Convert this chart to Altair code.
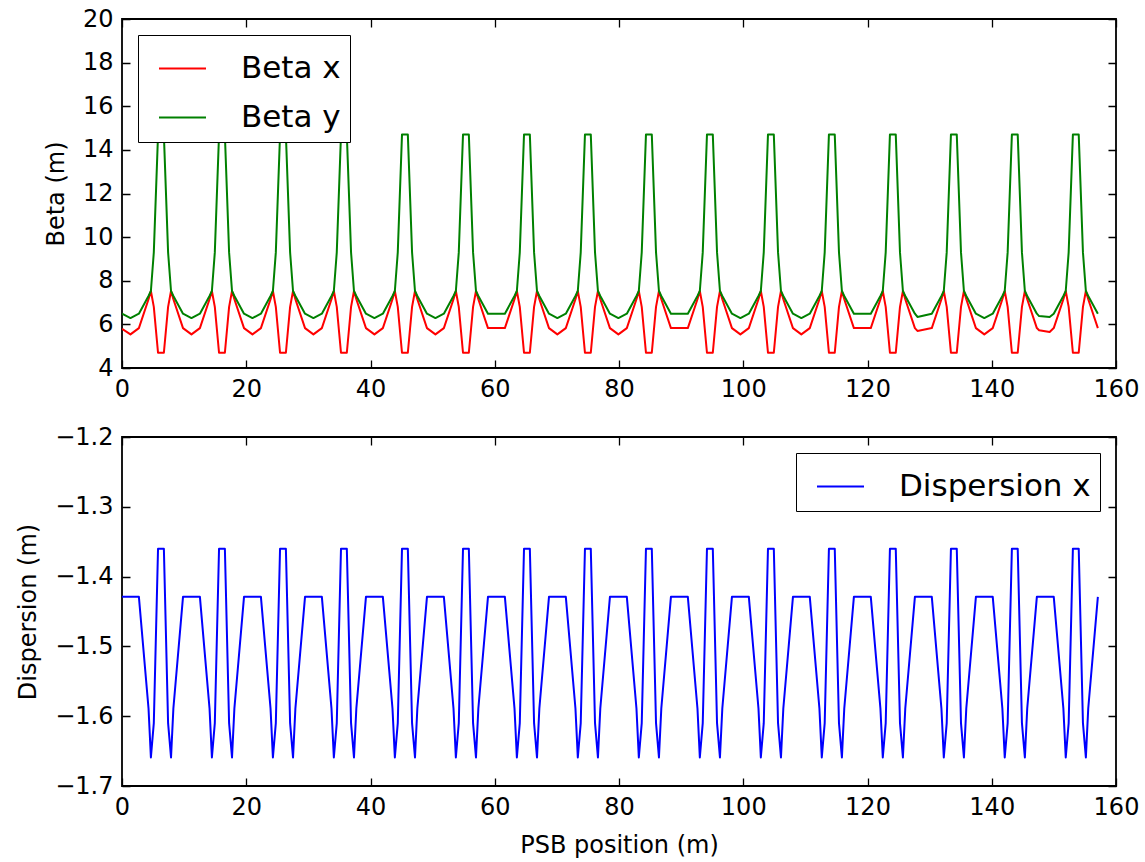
import altair as alt
import pandas as pd

# ---- data ----
# centres of the defocusing quadrupoles (beta-y peaks), m
qd_centres = [6.27, 16.09, 25.91, 35.72, 45.54, 55.36, 65.18, 74.99,
              84.81, 94.63, 104.45, 114.26, 124.08, 133.90, 143.71, 153.53]
# optics around each triplet (offset from the QD centre, m)
cell_offsets = [-3.55, -2.00, -1.62, -1.15, -0.47, 0.47, 1.15, 1.62, 2.00, 3.55]
cell_betx = [5.83, 7.15, 7.53, 6.80, 4.70, 4.70, 6.80, 7.53, 7.15, 5.83]
cell_bety = [6.49, 7.30, 7.53, 9.30, 14.70, 14.70, 9.30, 7.53, 7.30, 6.49]
cell_disp = [-1.429, -1.589, -1.659, -1.610, -1.360, -1.360, -1.610, -1.659, -1.589, -1.429]
# first point of the ring
start_s, start_betx, start_bety, start_disp = 0.0, 5.80, 6.49, -1.429
# straight sections: distance of their centre before each QD, and interior samples
straight_gap = 4.91
straight_disp = -1.429
valley_offsets = [[0.0], [0.0], [0.0], [0.0], [0.0], [0.0], [], [0.0],
                  [0.0], [], [0.0], [0.0], [], [-0.95], [0.0], [-1.0, 0.7]]
valley_betx = [[5.54], [5.54], [5.54], [5.54], [5.54], [5.54], [], [5.54],
               [5.54], [], [5.54], [5.54], [], [5.70], [5.54], [5.73, 5.65]]
valley_bety = [[6.29], [6.29], [6.29], [6.29], [6.29], [6.29], [], [6.29],
               [6.29], [], [6.29], [6.29], [], [6.34], [6.29], [6.38, 6.34]]

x_ticks = [0, 20, 40, 60, 80, 100, 120, 140, 160]
beta_ticks = [4, 6, 8, 10, 12, 14, 16, 18, 20]
disp_ticks = [-1.7, -1.6, -1.5, -1.4, -1.3, -1.2]

# ---- assemble the table ----
s, bx, by, dx = [start_s], [start_betx], [start_bety], [start_disp]
for j, c in enumerate(qd_centres):
    vc = c - straight_gap
    for off, vx, vy in zip(valley_offsets[j], valley_betx[j], valley_bety[j]):
        s.append(vc + off); bx.append(vx); by.append(vy); dx.append(straight_disp)
    for u, vx, vy, vd in zip(cell_offsets, cell_betx, cell_bety, cell_disp):
        s.append(c + u); bx.append(vx); by.append(vy); dx.append(vd)

n = len(s)
beta_df = pd.DataFrame({"s": s + s, "value": bx + by,
                        "series": ["Beta x"] * n + ["Beta y"] * n,
                        "k": list(range(n)) + list(range(n))})
disp_df = pd.DataFrame({"s": s, "value": dx, "series": ["Dispersion x"] * n, "k": list(range(n))})

W, H = 994, 349
FONT = "DejaVu Sans"

def axis_kw(length, **extra):
    kw = dict(labelFont=FONT, labelFontSize=24, labelColor="black", labelPadding=9,
              labelOverlap=False, labelFlush=False, ticks=False, domain=False,
              grid=True, gridColor="black", gridWidth=1.3, gridOpacity=1,
              gridDash=[8, length - 16, 8, 5000],
              titleFont=FONT, titleFontSize=24, titleFontWeight="normal",
              titleColor="black", titlePadding=14)
    kw.update(extra)
    return kw

legend_kw = dict(title=None, symbolType="stroke", symbolSize=2209, symbolStrokeWidth=2,
                 labelFont=FONT, labelFontSize=31, labelColor="black", labelOffset=34,
                 padding=9, rowPadding=9, fillColor="white", strokeColor="black",
                 symbolOffset=11, labelLimit=500, offset=16)

top = alt.Chart(beta_df).mark_line(strokeWidth=2, strokeJoin="round", clip=True).encode(
    x=alt.X("s:Q", scale=alt.Scale(domain=[0, 160], nice=False, zero=False),
            axis=alt.Axis(values=x_ticks, format="d", title=None, **axis_kw(H))),
    y=alt.Y("value:Q", scale=alt.Scale(domain=[4, 20], nice=False, zero=False),
            axis=alt.Axis(values=beta_ticks, format="d", title="Beta (m)", **axis_kw(W))),
    color=alt.Color("series:N",
                    scale=alt.Scale(domain=["Beta x", "Beta y"], range=["#ff0000", "#008000"]),
                    legend=alt.Legend(orient="top-left", **legend_kw)),
    order="k:Q",
).properties(width=W, height=H)

bottom = alt.Chart(disp_df).mark_line(strokeWidth=2, strokeJoin="round", clip=True).encode(
    x=alt.X("s:Q", scale=alt.Scale(domain=[0, 160], nice=False, zero=False),
            axis=alt.Axis(values=x_ticks, format="d", title="PSB position (m)", **axis_kw(H))),
    y=alt.Y("value:Q", scale=alt.Scale(domain=[-1.7, -1.2], nice=False, zero=False),
            axis=alt.Axis(values=disp_ticks, format=".1f", title="Dispersion (m)", **axis_kw(W))),
    color=alt.Color("series:N",
                    scale=alt.Scale(domain=["Dispersion x"], range=["#0000ff"]),
                    legend=alt.Legend(orient="top-right", **legend_kw)),
    order="k:Q",
).properties(width=W, height=H)

chart = alt.vconcat(top, bottom, spacing=69, bounds="flush").resolve_scale(
    color="independent").resolve_legend(color="independent").properties(
    padding={"left": 15, "top": 6, "right": 5, "bottom": 5},
    background="white",
).configure_view(stroke="black", strokeWidth=1.8)

chart.save("out.html", embed_options={"renderer": "svg", "actions": False})
